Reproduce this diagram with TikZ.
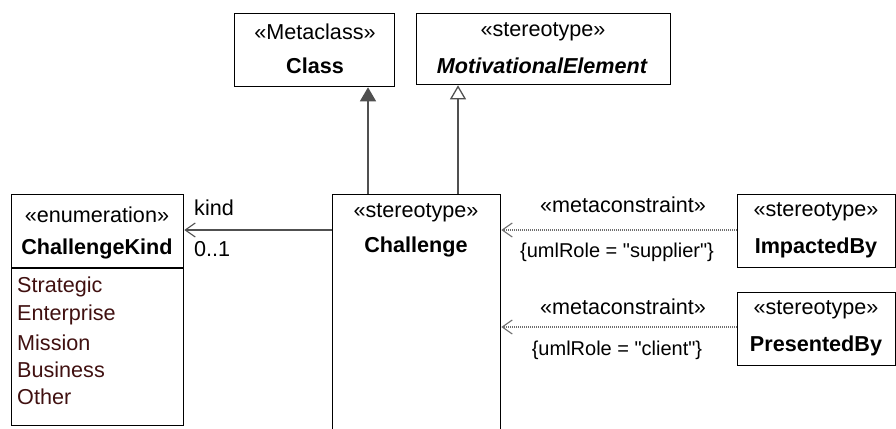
\documentclass[tikz,border=0pt]{standalone}
\usepackage{fontspec}
\setmainfont{Liberation Sans}
\usetikzlibrary{arrows.meta}
\definecolor{linegray}{RGB}{80,80,80}
\definecolor{dotgray}{RGB}{110,110,110}
\definecolor{litcol}{RGB}{64,16,16}
\begin{document}
\begin{tikzpicture}[x=1pt,y=-1pt,
  every node/.style={font=\fontsize{21.6}{25}\selectfont, inner sep=0pt},
  box/.style={draw=black, line width=1.3pt, anchor=north west, inner sep=0pt},
  lit/.style={anchor=west, text=litcol},
  gen/.style={draw=linegray, line width=1.3pt},
  assoc/.style={draw=linegray, line width=1.1pt, -{Straight Barb[length=10pt,width=14pt,line width=1.1pt]}},
  meta/.style={draw=dotgray, line width=1.1pt, dash pattern=on 1pt off 1pt, -{Straight Barb[length=10pt,width=14pt,line width=1.1pt]}},
  role/.style={font=\fontsize{20}{24}\selectfont}
]
\useasboundingbox (0,0) rectangle (896,428);
\clip (0,0) rectangle (896,428);

% Class
\node[box, minimum width=160pt, minimum height=73pt] (class) at (234,13) {};
\node (classst) at (315,32) {«Metaclass»};
\node (classnm) at (315,66) {\bfseries Class};

% MotivationalElement
\node[box, minimum width=254pt, minimum height=71pt] (motiv) at (416,13) {};
\node (motivst) at (543,32) {«stereotype»};
\node (motivnm) at (542,66) {\bfseries\itshape MotivationalElement};

% Challenge
\node[box, minimum width=168pt, minimum height=260pt] (chal) at (332,194) {};
\node (chalst) at (416,213) {«stereotype»};
\node (chalnm) at (416,247) {\bfseries Challenge};

% ChallengeKind
\node[box, minimum width=172pt, minimum height=231pt] (ckind) at (11,194) {};
\node (ckindst) at (97,215) {«enumeration»};
\node (ckindnm) at (97,249) {\bfseries ChallengeKind};
\draw[line width=1.3pt] (ckind.west |- 0,268) -- (ckind.east |- 0,268);
\node[lit] (l1) at (17,287) {Strategic};
\node[lit] (l2) at (17,315) {Enterprise};
\node[lit] (l3) at (17,343) {Mission};
\node[lit] (l4) at (17,370) {Business};
\node[lit] (l5) at (17,397) {Other};

% ImpactedBy
\node[box, minimum width=158pt, minimum height=73pt] (imp) at (737,194) {};
\node (impst) at (816,212) {«stereotype»};
\node (impnm) at (816,248) {\bfseries ImpactedBy};

% PresentedBy
\node[box, minimum width=158pt, minimum height=73pt] (pres) at (737,292) {};
\node (presst) at (816,310) {«stereotype»};
\node (presnm) at (816,346) {\bfseries PresentedBy};

% generalizations
\draw[gen, -{Triangle[length=14pt,width=16pt,fill=linegray]}] (chal.north -| 368,0) -- (class.south -| 368,0);
\draw[gen, -{Triangle[open,length=14pt,width=16pt,fill=white]}] (chal.north -| 458,0) -- (motiv.south -| 458,0);

% association
\draw[assoc] (chal.west |- 0,230) -- (ckind.east |- 0,230);
\node[anchor=west] (kindlbl) at (194,208) {kind};
\node[anchor=west] (multlbl) at (194,249) {0..1};

% metaconstraints
\draw[meta] (imp.west |- 0,230) -- (chal.east |- 0,230);
\node (mc1) at (623,205) {«metaconstraint»};
\node[role] (ur1) at (617,252) {\{umlRole = \textquotedbl supplier\textquotedbl\}};
\draw[meta] (pres.west |- 0,327) -- (chal.east |- 0,327);
\node (mc2) at (623,307) {«metaconstraint»};
\node[role] (ur2) at (617,350) {\{umlRole = \textquotedbl client\textquotedbl\}};
\end{tikzpicture}
\end{document}
